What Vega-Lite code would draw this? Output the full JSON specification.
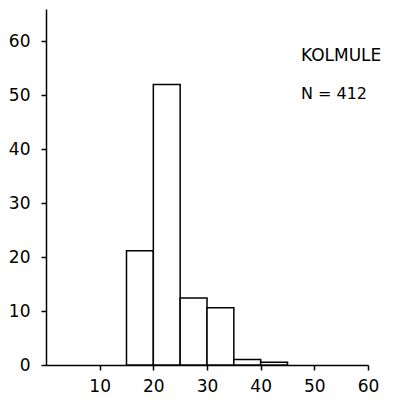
{
  "$schema": "https://vega.github.io/schema/vega-lite/v6.json",
  "width": 322,
  "height": 356,
  "autosize": "none",
  "padding": {"left": 46, "top": 9, "right": 40, "bottom": 39},
  "background": "white",
  "config": {
    "view": {"stroke": null},
    "font": "DejaVu Sans"
  },
  "layer": [
    {
      "data": {
        "values": [
          {"start": 15, "end": 20, "percent": 21.2},
          {"start": 20, "end": 25, "percent": 52.0},
          {"start": 25, "end": 30, "percent": 12.4},
          {"start": 30, "end": 35, "percent": 10.6},
          {"start": 35, "end": 40, "percent": 1.0},
          {"start": 40, "end": 45, "percent": 0.5}
        ]
      },
      "mark": {"type": "bar", "fill": "white", "stroke": "black", "strokeWidth": 1.5},
      "encoding": {
        "x": {
          "field": "start", "type": "quantitative",
          "scale": {"domain": [0, 60], "nice": false},
          "axis": {
            "title": null, "values": [10, 20, 30, 40, 50, 60], "grid": false,
            "domainColor": "black", "domainWidth": 1.5, "tickColor": "black", "tickWidth": 1.5,
            "tickSize": 5, "labelFontSize": 17, "labelColor": "black", "labelPadding": 8,
            "labelFlush": false
          }
        },
        "x2": {"field": "end"},
        "y": {
          "field": "percent", "type": "quantitative",
          "scale": {"domain": [0, 66], "nice": false},
          "axis": {
            "title": null, "values": [0, 10, 20, 30, 40, 50, 60], "grid": false,
            "domainColor": "black", "domainWidth": 1.5, "tickColor": "black", "tickWidth": 1.5,
            "tickSize": 5, "labelFontSize": 17, "labelColor": "black", "labelPadding": 11,
            "labelFlush": false
          }
        },
        "y2": {"datum": 0}
      }
    },
    {
      "data": {"values": [{"label": "KOLMULE"}]},
      "mark": {"type": "text", "align": "left", "baseline": "middle", "fontSize": 17, "color": "black"},
      "encoding": {
        "x": {"datum": 47.5, "type": "quantitative"},
        "y": {"datum": 57.2, "type": "quantitative"},
        "text": {"field": "label"}
      }
    },
    {
      "data": {"values": [{"label": "N = 412"}]},
      "mark": {"type": "text", "align": "left", "baseline": "middle", "fontSize": 16, "color": "black"},
      "encoding": {
        "x": {"datum": 47.5, "type": "quantitative"},
        "y": {"datum": 50.2, "type": "quantitative"},
        "text": {"field": "label"}
      }
    }
  ]
}
